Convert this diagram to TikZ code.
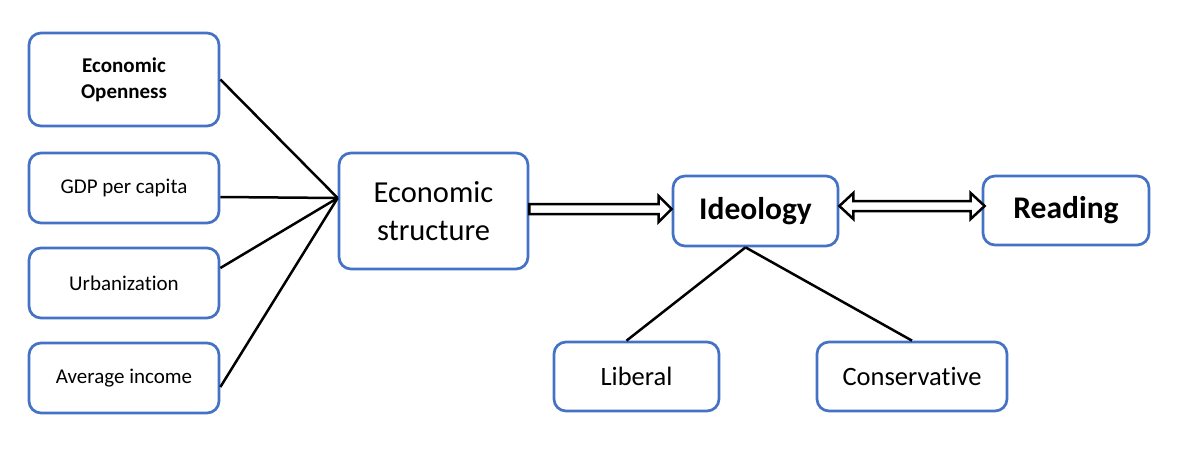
\documentclass[tikz,border=0pt]{standalone}
\usepackage{fontspec}
\setmainfont[Ligatures=NoCommon]{Carlito}
\usetikzlibrary{calc}
\definecolor{boxblue}{HTML}{4472C4}
\tikzset{
  box/.style={draw=boxblue, line width=2.7pt, rounded corners=12pt, fill=white,
    inner sep=0pt, align=center, text=black},
  smallbox/.style={box, minimum width=190pt, minimum height=70pt, font=\fontsize{21}{26}\selectfont},
  conn/.style={draw=black, line width=2.5pt},
  harrow/.style={draw=black, fill=white, line width=2.5pt, line join=miter},
}
\begin{document}
\begin{tikzpicture}[x=1pt,y=-1pt]
\useasboundingbox (0,0) rectangle (1191,456);
\node[smallbox, minimum height=93pt, font=\bfseries\fontsize{21}{26}\selectfont] (open) at (124,79.5) {Economic\\Openness};
\node[smallbox] (gdp) at (124,188) {GDP per capita};
\node[smallbox] (urb) at (124,283) {Urbanization};
\node[smallbox] (inc) at (124,378) {Average income};
\node[box, minimum width=189pt, minimum height=116pt, font=\fontsize{30.5}{38}\selectfont] (es) at (433.5,211) {Economic\\structure};
\node[box, minimum width=165pt, minimum height=70pt, font=\bfseries\fontsize{31.5}{38}\selectfont] (ide) at (755.5,211) {Ideology};
\node[box, minimum width=166pt, minimum height=69pt, font=\bfseries\fontsize{31.5}{38}\selectfont] (read) at (1066,210.5) {Reading};
\node[box, minimum width=165pt, minimum height=69pt, font=\fontsize{26.5}{32}\selectfont] (lib) at (636.5,376.5) {Liberal};
\node[box, minimum width=190pt, minimum height=69pt, font=\fontsize{26.5}{32}\selectfont] (cons) at (912,376.5) {Conservative};

\coordinate (hub) at ($(es.west)+(0,-13)$);
\draw[conn] (open.east) -- (hub);
\draw[conn] ($(gdp.east)+(0,9)$) -- (hub);
\draw[conn] ($(urb.east)+(0,-15)$) -- (hub);
\draw[conn] ($(inc.east)+(0,9)$) -- (hub);

\coordinate (split) at ($(ide.south)+(-10,0)$);
\draw[conn] (split) -- ($(lib.north)+(-10,0)$);
\draw[conn] (split) -- (cons.north);

\draw[harrow] let \p1=($(es.east)+(0,-2)$), \p2=($(ide.west)+(0,-2)$) in
  (\x1,\y1+5) -- (\x2-13,\y1+5) -- (\x2-13,\y1+13) -- (\x2,\y1)
  -- (\x2-13,\y1-13) -- (\x2-13,\y1-5) -- (\x1,\y1-5) -- cycle;

\draw[harrow] let \p1=($(ide.east)+(0,-5)$), \p2=($(read.west)+(3,-5)$) in
  (\x1,\y1) -- (\x1+14,\y1+13) -- (\x1+14,\y1+5) -- (\x2-14,\y1+5)
  -- (\x2-14,\y1+13) -- (\x2,\y1) -- (\x2-14,\y1-13) -- (\x2-14,\y1-5)
  -- (\x1+14,\y1-5) -- (\x1+14,\y1-13) -- cycle;
\end{tikzpicture}
\end{document}
